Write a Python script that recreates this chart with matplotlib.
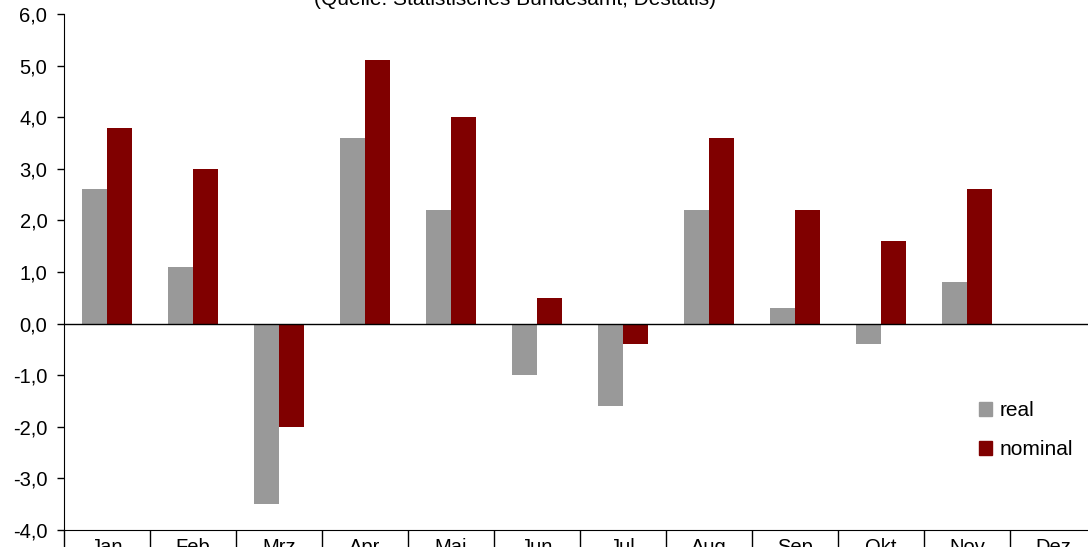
import matplotlib.pyplot as plt
from matplotlib.patches import Patch
from matplotlib.ticker import FuncFormatter

months = ['Jan', 'Feb', 'Mrz', 'Apr', 'Mai', 'Jun', 'Jul', 'Aug', 'Sep', 'Okt', 'Nov', 'Dez']
real = [2.6, 1.1, -3.5, 3.6, 2.2, -1.0, -1.6, 2.2, 0.3, -0.4, 0.8, None]
nominal = [3.8, 3.0, -2.0, 5.1, 4.0, 0.5, -0.4, 3.6, 2.2, 1.6, 2.6, None]

plt.rcParams['font.family'] = ['Liberation Sans', 'DejaVu Sans']
plt.rcParams['font.size'] = 14.5

W, H = 1088, 547
fig = plt.figure(figsize=(W / 100, H / 100), dpi=100)
ax = fig.add_axes([64 / W, (H - 530) / H, (1096 - 64) / W, (530 - 14) / H])

w = 0.29
for i, (r, n) in enumerate(zip(real, nominal)):
    if r is not None:
        ax.bar(i - w / 2, r, width=w, color='#999999')
    if n is not None:
        ax.bar(i + w / 2, n, width=w, color='#800000')

ax.axhline(0, color='black', lw=1)
ax.set_xlim(-0.5, 11.5)
ax.set_ylim(-4, 6)
ax.set_yticks(range(-4, 7))
ax.yaxis.set_major_formatter(FuncFormatter(lambda v, p: f'{v:.1f}'.replace('.', ',')))

ax.set_xticks(range(12))
ax.set_xticklabels(months)
ax.set_xticks([i + 0.5 for i in range(-1, 12)], minor=True)
ax.tick_params(axis='x', which='major', length=0, pad=6)
ax.tick_params(axis='x', which='minor', length=20, width=1, direction='out')
ax.tick_params(axis='y', length=5, width=1, direction='out', pad=7)

for s in ['top', 'right']:
    ax.spines[s].set_visible(False)

fig.text(515 / W, 1 - 5 / H, '(Quelle: Statistisches Bundesamt, Destatis)',
         ha='center', va='baseline', fontsize=15)

handles = [Patch(color='#999999', label='real'), Patch(color='#800000', label='nominal')]
ax.legend(handles=handles, frameon=False, handlelength=0.65, handleheight=0.65,
          handletextpad=0.35, labelspacing=0.95, fontsize=15, loc='center left',
          bbox_to_anchor=(960 / W, 1 - 430 / H), bbox_transform=fig.transFigure)

fig.savefig('out.png', dpi=100)
